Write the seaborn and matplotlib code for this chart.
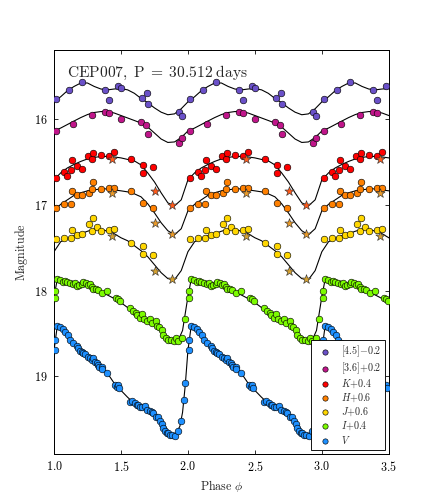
import numpy as np
import pandas as pd
import matplotlib
matplotlib.use('Agg')
import matplotlib.pyplot as plt
from matplotlib.ticker import FixedLocator, FuncFormatter
import seaborn as sns

# ==========================================
# Bands, offsets and colours
# ==========================================
band_names = ['[4.5]', '[3.6]', 'K', 'H', 'J', 'I', 'V']
band_offsets = [-0.2, 0.2, 0.4, 0.6, 0.6, 0.4, 0.0]
legend_labels = [r'$[4.5]{-}0.2$', r'$[3.6]{+}0.2$', r'$K{+}0.4$', r'$H{+}0.6$',
                 r'$J{+}0.6$', r'$I{+}0.4$', r'$V$']
band_colors = ['#6a50c8', '#c0158a', '#ff0000', '#ff8000', '#ffd700', '#7cfc00', '#1e90ff']
star_colors = {'K': '#ff5a1a', 'H': '#e89a2a', 'J': '#d4a030'}

title_text = r'$\mathrm{CEP007,\;P\;{=}\;30.512\;days}$'

# ==========================================
# Template light curves (phase, raw magnitude)
# ==========================================
grid20 = [0.00, 0.05, 0.10, 0.15, 0.20, 0.25, 0.30, 0.35, 0.40, 0.45,
          0.50, 0.55, 0.60, 0.65, 0.70, 0.75, 0.80, 0.85, 0.90, 0.95]

curve_i2_phase = grid20
curve_i2_mag = [16.00, 15.94, 15.87, 15.82, 15.78, 15.78, 15.82, 15.85, 15.86, 15.85,
                15.845, 15.86, 15.90, 15.96, 16.01, 16.07, 16.12, 16.15, 16.14, 16.08]

curve_i1_phase = grid20
curve_i1_mag = [15.94, 15.905, 15.864, 15.823, 15.783, 15.748, 15.724, 15.713, 15.713, 15.730,
                15.759, 15.788, 15.817, 15.847, 15.893, 15.963, 16.033, 16.073, 16.067, 16.015]

curve_k_phase = grid20
curve_k_mag = [16.309, 16.228, 16.170, 16.129, 16.094, 16.065, 16.048, 16.036, 16.036, 16.042,
               16.053, 16.071, 16.088, 16.135, 16.228, 16.333, 16.460, 16.577, 16.612, 16.542]

curve_h_phase = grid20
curve_h_mag = [16.470, 16.394, 16.342, 16.290, 16.260, 16.237, 16.226, 16.214, 16.214, 16.226,
               16.237, 16.249, 16.272, 16.307, 16.388, 16.493, 16.609, 16.702, 16.749, 16.679]

curve_j_phase = grid20
curve_j_mag = [16.947, 16.830, 16.795, 16.760, 16.737, 16.708, 16.685, 16.685, 16.708, 16.737,
               16.784, 16.819, 16.877, 16.935, 17.005, 17.098, 17.191, 17.260, 17.272, 17.167]

curve_i_phase = [0.00, 0.02, 0.04, 0.10, 0.15, 0.20, 0.25, 0.30, 0.35, 0.40, 0.45, 0.50,
                 0.55, 0.60, 0.65, 0.70, 0.75, 0.80, 0.85, 0.90, 0.93, 0.96, 0.98]
curve_i_mag = [17.670, 17.507, 17.460, 17.484, 17.507, 17.524, 17.548, 17.577, 17.612, 17.652,
               17.693, 17.740, 17.798, 17.856, 17.902, 17.949, 18.007, 18.077, 18.135, 18.176,
               18.170, 18.065, 17.867]

curve_v_phase = [0.00, 0.02, 0.035, 0.05, 0.10, 0.15, 0.20, 0.25, 0.30, 0.35, 0.40, 0.45,
                 0.50, 0.55, 0.60, 0.65, 0.70, 0.75, 0.80, 0.85, 0.88, 0.91, 0.94, 0.96, 0.98]
curve_v_mag = [18.698, 18.465, 18.395, 18.419, 18.523, 18.616, 18.698, 18.767, 18.826, 18.884,
               18.965, 19.081, 19.163, 19.244, 19.314, 19.355, 19.390, 19.442, 19.523, 19.628,
               19.669, 19.669, 19.581, 19.419, 19.105]

# ==========================================
# Observations (phase, raw magnitude)
# ==========================================
obs_i2_phase = [0.015, 0.112, 0.210, 0.382, 0.412, 0.479, 0.501, 0.659, 0.696, 0.704, 0.936, 0.958]
obs_i2_mag = [15.97, 15.86, 15.77, 15.86, 15.98, 15.82, 15.84, 15.96, 15.90, 16.03, 16.12, 16.17]

obs_i1_phase = [0.015, 0.142, 0.284, 0.382, 0.412, 0.501, 0.651, 0.689, 0.704, 0.936, 0.958]
obs_i1_mag = [15.94, 15.858, 15.753, 15.719, 15.73, 15.80, 15.835, 15.864, 15.974, 16.079, 16.021]

obs_k_phase = [0.015, 0.075, 0.097, 0.127, 0.135, 0.172, 0.210, 0.254, 0.284, 0.292,
               0.352, 0.412, 0.449, 0.576, 0.666, 0.666, 0.741]
obs_k_mag = [16.286, 16.216, 16.263, 16.193, 16.077, 16.147, 16.181, 16.030, 16.065, 15.995,
             16.019, 16.030, 15.984, 16.065, 16.135, 16.228, 16.158]

obs_h_phase = [0.015, 0.075, 0.127, 0.135, 0.172, 0.210, 0.262, 0.284, 0.292, 0.352,
               0.412, 0.449, 0.576, 0.666, 0.741]
obs_h_mag = [16.435, 16.388, 16.388, 16.237, 16.284, 16.284, 16.260, 16.214, 16.133, 16.214,
             16.202, 16.202, 16.237, 16.377, 16.435]

obs_j_phase = [0.015, 0.075, 0.127, 0.135, 0.172, 0.210, 0.262, 0.284, 0.292, 0.322,
               0.352, 0.412, 0.449, 0.576, 0.666, 0.666, 0.741]
obs_j_mag = [16.795, 16.784, 16.784, 16.691, 16.749, 16.737, 16.621, 16.702, 16.551, 16.656,
             16.702, 16.691, 16.679, 16.842, 16.877, 16.970, 16.981]

obs_i_phase = [0.007, 0.007, 0.022, 0.045, 0.067, 0.082, 0.097, 0.120, 0.142, 0.157,
               0.172, 0.187, 0.210, 0.217, 0.240, 0.254, 0.269, 0.284, 0.292, 0.314,
               0.329, 0.359, 0.397, 0.464, 0.479, 0.494, 0.569, 0.591, 0.614, 0.621,
               0.644, 0.659, 0.674, 0.696, 0.719, 0.734, 0.763, 0.771, 0.786, 0.808,
               0.816, 0.838, 0.853, 0.876, 0.898, 0.913, 0.928, 0.958, 0.981]
obs_i_mag = [17.600, 17.681, 17.460, 17.472, 17.495, 17.484, 17.495, 17.507, 17.519, 17.507,
             17.542, 17.530, 17.519, 17.495, 17.507, 17.530, 17.519, 17.553, 17.577, 17.577,
             17.588, 17.623, 17.600, 17.681, 17.693, 17.716, 17.798, 17.833, 17.856, 17.879,
             17.914, 17.867, 17.926, 17.949, 17.926, 17.972, 17.960, 18.007, 18.030, 18.065,
             18.112, 18.147, 18.181, 18.170, 18.193, 18.158, 18.193, 18.158, 17.926]

obs_v_phase = [0.007, 0.007, 0.022, 0.045, 0.067, 0.082, 0.105, 0.120, 0.142, 0.172,
               0.180, 0.195, 0.210, 0.217, 0.232, 0.254, 0.269, 0.284, 0.292, 0.307,
               0.322, 0.329, 0.337, 0.359, 0.359, 0.397, 0.457, 0.472, 0.479, 0.487,
               0.569, 0.584, 0.606, 0.621, 0.629, 0.644, 0.659, 0.681, 0.696, 0.719,
               0.734, 0.741, 0.763, 0.778, 0.793, 0.808, 0.816, 0.831, 0.846, 0.853,
               0.868, 0.883, 0.906, 0.928, 0.951, 0.973, 0.981]
obs_v_mag = [18.581, 18.698, 18.407, 18.430, 18.442, 18.488, 18.523, 18.581, 18.605, 18.640,
             18.674, 18.709, 18.721, 18.733, 18.744, 18.779, 18.791, 18.814, 18.791, 18.837,
             18.849, 18.872, 18.895, 18.895, 18.919, 18.965, 19.105, 19.128, 19.105, 19.140,
             19.302, 19.291, 19.314, 19.337, 19.337, 19.360, 19.360, 19.349, 19.395, 19.407,
             19.419, 19.430, 19.477, 19.477, 19.523, 19.558, 19.605, 19.640, 19.663, 19.663,
             19.686, 19.686, 19.698, 19.640, 19.523, 19.279, 19.081]

# Near-infrared comparison points drawn as stars
star_phase = [0.434, 0.756, 0.883]
star_k_mag = [16.065, 16.437, 16.600]
star_h_mag = [16.260, 16.609, 16.737]
star_j_mag = [16.760, 17.167, 17.260]

x_ticks = [1.0, 1.5, 2.0, 2.5, 3.0, 3.5]
y_ticks = [16, 17, 18, 19]

curves = [(curve_i2_phase, curve_i2_mag), (curve_i1_phase, curve_i1_mag),
          (curve_k_phase, curve_k_mag), (curve_h_phase, curve_h_mag),
          (curve_j_phase, curve_j_mag), (curve_i_phase, curve_i_mag),
          (curve_v_phase, curve_v_mag)]
observations = [(obs_i2_phase, obs_i2_mag), (obs_i1_phase, obs_i1_mag),
                (obs_k_phase, obs_k_mag), (obs_h_phase, obs_h_mag),
                (obs_j_phase, obs_j_mag), (obs_i_phase, obs_i_mag),
                (obs_v_phase, obs_v_mag)]
stars = {'K': star_k_mag, 'H': star_h_mag, 'J': star_j_mag}


def fold(phase, mag, offset, lo, hi):
    # repeat one cycle over the plotted phase range
    rows = []
    for k in range(4):
        for p, m in zip(phase, mag):
            x = p + k
            if lo <= x <= hi:
                rows.append((x, m + offset))
    return pd.DataFrame(rows, columns=['phase', 'mag'])


# ==========================================
# Style
# ==========================================
sns.set_style('ticks')
plt.rcParams['font.family'] = ['DejaVu Serif']
plt.rcParams['mathtext.fontset'] = 'cm'
plt.rcParams['xtick.direction'] = 'in'
plt.rcParams['ytick.direction'] = 'in'
plt.rcParams['xtick.top'] = True
plt.rcParams['ytick.right'] = True

fig, ax = plt.subplots(figsize=(6, 7), dpi=72)
fig.subplots_adjust(left=0.125, right=0.9, bottom=0.1, top=0.9)

for name, off, (cp, cm) in zip(band_names, band_offsets, curves):
    df_curve = fold(cp + [1.0], cm + [cm[0]], off, 0.9, 3.6)
    sns.lineplot(data=df_curve, x='phase', y='mag', sort=False, estimator=None,
                 color='black', linewidth=1.1, ax=ax, zorder=2)

for name, off, col, lab, (op, om) in zip(band_names, band_offsets, band_colors,
                                        legend_labels, observations):
    df_obs = fold(op, om, off, 1.0, 3.5)
    sns.scatterplot(data=df_obs, x='phase', y='mag', color=col, edgecolor='black',
                    linewidth=0.6, s=44, ax=ax, zorder=3, label=lab)
    if name in stars:
        df_star = fold(star_phase, stars[name], off, 1.0, 3.5)
        sns.scatterplot(data=df_star, x='phase', y='mag', color=star_colors[name],
                        edgecolor='#333333', linewidth=0.6, s=95, marker='*',
                        ax=ax, zorder=4, label='_nolegend_')

ax.set_xlim(1.0, 3.5)
ax.set_ylim(19.9, 15.2)
ax.xaxis.set_major_locator(FixedLocator(x_ticks))
ax.yaxis.set_major_locator(FixedLocator(y_ticks))
ax.xaxis.set_major_formatter(FuncFormatter(lambda v, p: f'${v:.1f}$'))
ax.yaxis.set_major_formatter(FuncFormatter(lambda v, p: f'${v:.0f}$'))
ax.tick_params(axis='both', which='major', length=4, width=0.8, labelsize=12,
               colors='black', pad=6)
for sp in ax.spines.values():
    sp.set_linewidth(1.0)
    sp.set_color('black')

ax.set_xlabel(r'$\mathrm{Phase}\ \phi$', fontsize=12)
ax.set_ylabel(r'$\mathrm{Magnitude}$', fontsize=12)
ax.text(0.04, 0.935, title_text, transform=ax.transAxes, fontsize=15.5,
        va='baseline', ha='left')

handles, labels = ax.get_legend_handles_labels()
leg = ax.legend(handles, labels, loc='lower right', fontsize=10, frameon=True,
                fancybox=False, framealpha=1, edgecolor='black', borderaxespad=0.4,
                handletextpad=0.6, labelspacing=0.15, borderpad=0.4, markerscale=0.8)
leg.get_frame().set_linewidth(0.9)

fig.savefig('out.png', dpi=72)
